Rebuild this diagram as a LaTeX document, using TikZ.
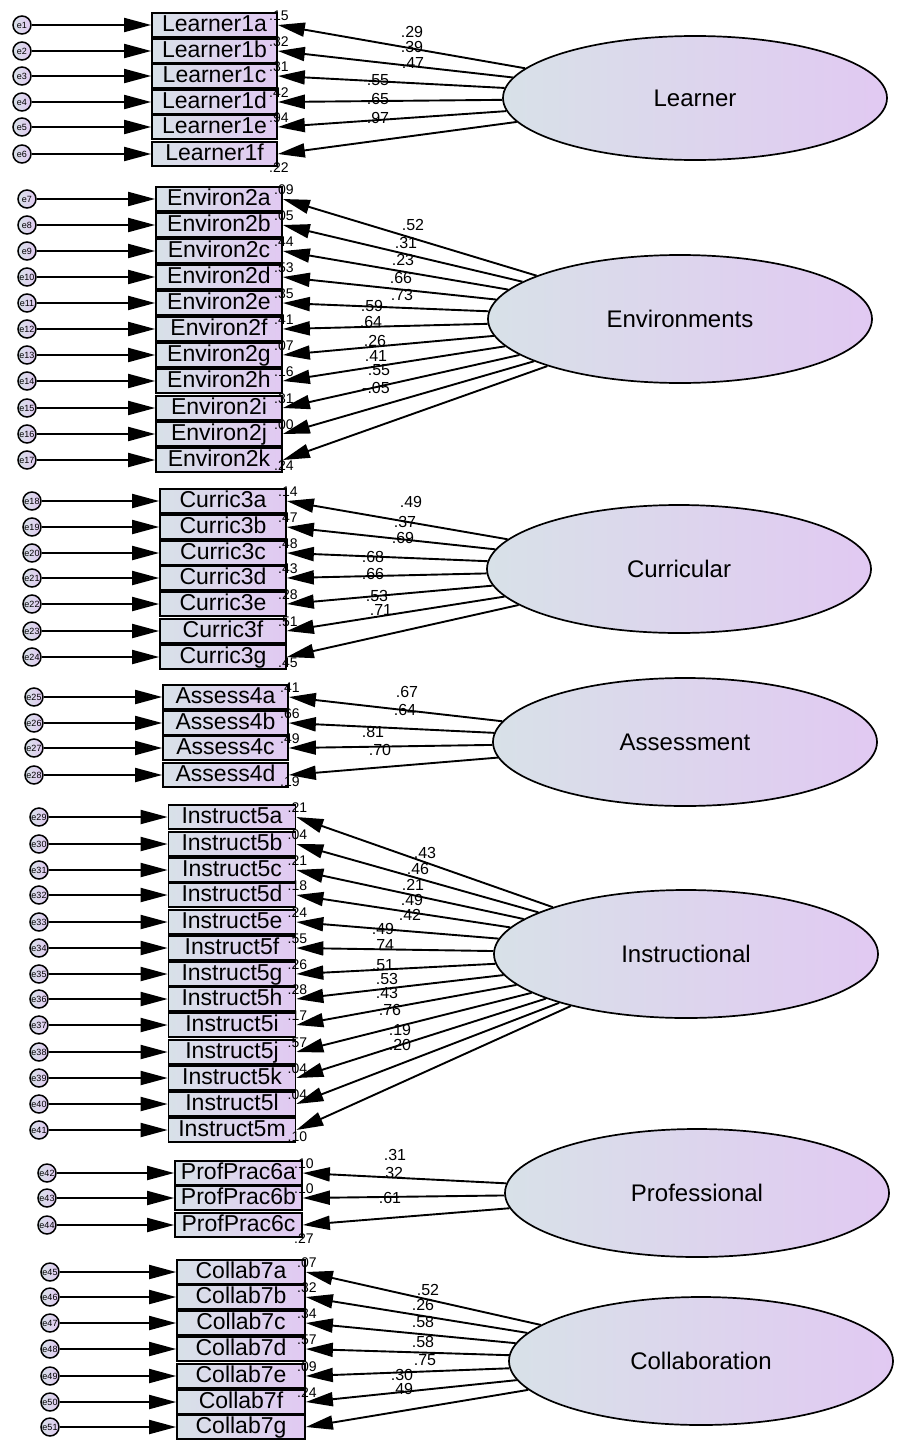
\documentclass[tikz,border=0pt]{standalone}
\usepackage{fontspec}
\setmainfont{Liberation Sans}
\usetikzlibrary{arrows.meta,calc,shapes.geometric}
\definecolor{shL}{HTML}{D8E1E8}
\definecolor{shR}{HTML}{E1C9F2}
\tikzset{
  ibox/.style={draw=black, line width=1.7pt, left color=shL, right color=shR,
    minimum width=#1, minimum height=24.5pt, inner sep=0pt, text height=16pt, text depth=4pt,
    font=\fontsize{23}{23}\selectfont},
  errc/.style={circle, draw=black, line width=1.5pt, left color=shL, right color=shR,
    minimum size=18pt, inner sep=0pt, font=\fontsize{9}{9}\selectfont},
  latent/.style={ellipse, draw=black, line width=1.7pt, left color=shL, right color=shR,
    minimum width=384pt, minimum height=#1, inner sep=0pt, font=\fontsize{24}{24}\selectfont},
  arr/.style={line width=1.9pt, -{Triangle[length=27pt,width=14pt]}},
  ld/.style={font=\fontsize{16}{16}\selectfont, inner sep=0pt},
  rsq/.style={font=\fontsize{14}{14}\selectfont, inner sep=0pt},
}
% #1 box x, #2 box width, #3 error x, #4 latent, #5 list e/name/y/r2/dy
\newcommand\mkgroup[5]{%
  \foreach \e/\n/\y/\r/\dy in {#5} {
    \node[ibox=#2] (\n) at (#1,\y) {\n};
    \node[errc] (e\e) at (#3,\y) {e\e};
    \draw[arr] (e\e) -- (\n);
    \draw[arr] (#4) -- (\n.east);
    \node[rsq] at ($(\n.north east)+(1,\dy)$) {\r};
  }%
}
\begin{document}
\begin{tikzpicture}[x=1pt,y=-1pt]
\useasboundingbox (0,0) rectangle (899,1448);
\fill[white] (0,0) rectangle (899,1448);

\node[latent=124pt] (Learner) at (695,98) {Learner};
\node[latent=128pt] (Env) at (680,319) {Environments};
\node[latent=128pt] (Cur) at (679,569) {Curricular};
\node[latent=128pt] (Ass) at (685,742) {Assessment};
\node[latent=128pt] (Ins) at (686,954) {Instructional};
\node[latent=128pt] (Pro) at (697,1193) {Professional};
\node[latent=128pt] (Col) at (701,1361) {Collaboration};

\mkgroup{214.5}{125pt}{22}{Learner}{1/Learner1a/25/.15/4, 2/Learner1b/51/.32/4, 3/Learner1c/76/.31/4,
  4/Learner1d/102/.42/4, 5/Learner1e/127/.94/4, 6/Learner1f/154/.22/27}
\mkgroup{219}{126pt}{27}{Env}{7/Environ2a/199/.09/4, 8/Environ2b/225/.05/4, 9/Environ2c/251/.44/4,
  10/Environ2d/277/.53/4, 11/Environ2e/303/.35/4, 12/Environ2f/329/.41/4, 13/Environ2g/355/.07/4,
  14/Environ2h/381/.16/4, 15/Environ2i/408/.31/4, 16/Environ2j/434/.00/4, 17/Environ2k/460/.24/19}
\mkgroup{223}{126pt}{32}{Cur}{18/Curric3a/501/.14/4, 19/Curric3b/527/.47/4, 20/Curric3c/553/.48/4,
  21/Curric3d/578/.43/4, 22/Curric3e/604/.28/4, 23/Curric3f/631/.51/4, 24/Curric3g/657/.45/19}
\mkgroup{225.5}{125pt}{34}{Ass}{25/Assess4a/697/.41/4, 26/Assess4b/723/.66/4, 27/Assess4c/748/.49/4,
  28/Assess4d/775/.19/20}
\mkgroup{232}{127pt}{39}{Ins}{29/Instruct5a/817/.21/4, 30/Instruct5b/844/.04/4, 31/Instruct5c/870/.21/4,
  32/Instruct5d/895/.18/4, 33/Instruct5e/922/.24/4, 34/Instruct5f/948/.55/4, 35/Instruct5g/974/.26/4,
  36/Instruct5h/999/.28/4, 37/Instruct5i/1025/.17/4, 38/Instruct5j/1052/.57/4, 39/Instruct5k/1078/.04/4,
  40/Instruct5l/1104/.04/4, 41/Instruct5m/1130/.10/20}
\mkgroup{238.5}{127pt}{47}{Pro}{42/ProfPrac6a/1173/.10/4, 43/ProfPrac6b/1198/.10/4, 44/ProfPrac6c/1225/.27/27}
\mkgroup{241}{128pt}{50}{Col}{45/Collab7a/1272/.07/4, 46/Collab7b/1297/.32/4, 47/Collab7c/1323/.34/4,
  48/Collab7d/1349/.57/4, 49/Collab7e/1376/.09/4, 50/Collab7f/1402/.24/4, 51/Collab7g/1427/{}/4}

% loading labels
\foreach \t/\x/\y in {.29/412/32, .39/412/47, .47/413/63, .55/378/80, .65/378/99, .97/378/118,
  .52/413/225, .31/406/243, .23/403/260, .66/401/278, .73/402/295, .59/372/306, .64/371/322,
  .26/375/341, .41/376/356, .55/379/370, -.05/376/388,
  .49/411/502, .37/405/522, .69/403/538, .68/373/557, .66/373/574, .53/377/596, .71/381/610,
  .67/407/692, .64/405/710, .81/373/732, .70/380/750,
  .43/425/853, .46/418/869, .21/413/885, .49/412/900, .42/410/915, .49/383/929, .74/383/945,
  .51/383/965, .53/387/979, .43/387/993, .76/390/1010, .19/400/1030, .20/400/1045,
  .31/395/1155, .32/392/1173, .61/390/1198,
  .52/428/1290, .26/423/1305, .58/423/1322, .58/423/1342, .75/425/1360, .30/402/1375, .49/402/1389}
  \node[ld] at (\x,\y) {\t};
\end{tikzpicture}
\end{document}
